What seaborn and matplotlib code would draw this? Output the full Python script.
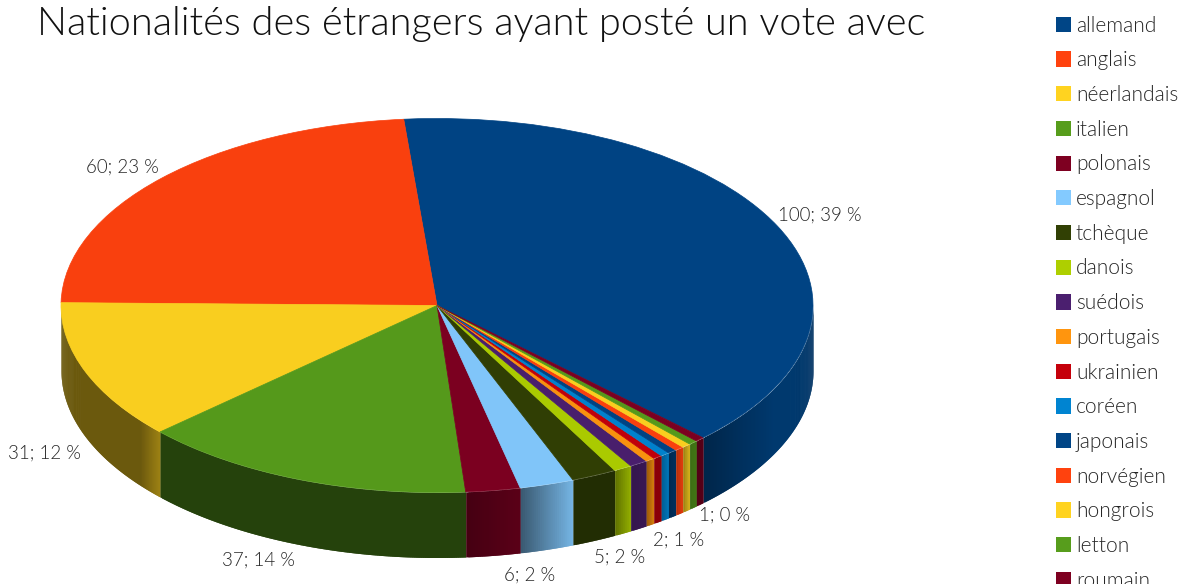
import numpy as np
import matplotlib
matplotlib.use("Agg")
import matplotlib.pyplot as plt
from matplotlib.colors import to_rgb
import seaborn as sns

TITLE = "Nationalités des étrangers ayant posté un vote avec"

languages = ["allemand", "anglais", "néerlandais", "italien", "polonais", "espagnol",
             "tchèque", "danois", "suédois", "portugais", "ukrainien", "coréen",
             "japonais", "norvégien", "hongrois", "letton", "roumain"]
votes = [100, 60, 31, 37, 6, 6, 5, 2, 2, 1, 1, 1, 1, 1, 1, 1, 1]
colours = ["#004586", "#ff420e", "#ffd320", "#579d1c", "#7e0021", "#83caff",
           "#314004", "#aecf00", "#4b1f6f", "#ff950e", "#c5000b", "#0084d1",
           "#004586", "#ff420e", "#ffd320", "#579d1c", "#7e0021"]
# how dark the side wall is, left to right on screen
wall_shades = [[0.55, 0.7, 0.82, 0.82, 0.78, 0.72], [0.5], [0.42] * 9 + [0.62], [0.42], [0.55, 0.72],
               [0.44, 0.9], [0.7], [0.55, 0.85], [0.7, 0.75], [0.6, 0.85], [0.7], [0.7, 0.9],
               [0.6, 0.7], [0.7, 0.9], [0.6, 0.85], [0.7, 0.75], [0.65, 0.7]]

# label text -> centre in pixels
labels = {
    "100; 39 %": (820, 215),
    "60; 23 %": (122, 167),
    "31; 12 %": (44, 453),
    "37; 14 %": (259, 560),
    "6; 2 %": (530, 575),
    "5; 2 %": (620, 557),
    "2; 1 %": (679, 540),
    "1; 0 %": (725, 515),
}

W, H = 1187, 584
CX, CY = 437, 305.5
RX, RY = 376, 187
DEPTH = 65 / RY
START = -45

FONT = ["Lato", "DejaVu Sans"]
TEXT = "#262626"


def draw_wall(ax, t0, t1, colour, shades):
    # only the front half of the disc shows a wall
    t0, t1 = max(t0, 180), min(t1, 360)
    if t1 <= t0:
        return
    n = max(int((t1 - t0) * 3), 2)
    edges = np.linspace(t0, t1, n + 1)
    stops = np.linspace(0, 1, len(shades)) if len(shades) > 1 else [0]
    base = np.array(to_rgb(colour))
    for i in range(n):
        # run each strip on under the next one so no white shows between them
        t = np.radians(np.linspace(edges[i], edges[min(i + 2, n)], 3))
        k = np.interp((i + 0.5) / n, stops, shades)
        ax.fill_between(np.cos(t), np.sin(t), np.sin(t) - DEPTH, color=base * k, lw=0, zorder=1)


def main() -> None:
    sns.set_theme(style="white")
    plt.rcParams["font.family"] = FONT

    fig = plt.figure(figsize=(W / 100, H / 100), dpi=100)
    ax = fig.add_axes([0, 0, 1, 1])

    wedges, _ = ax.pie(votes, colors=colours, startangle=START, counterclock=True,
                       wedgeprops={"linewidth": 0, "zorder": 2})

    angles = START + np.concatenate([[0], np.cumsum(votes)]) / sum(votes) * 360
    for i in range(len(votes)):
        # the first wedge starts under 0 degrees, so shift it round to the front
        t0, t1 = angles[i], angles[i + 1]
        if t0 < 0:
            draw_wall(ax, t0 + 360, 360, colours[i], wall_shades[i])
        else:
            draw_wall(ax, t0, t1, colours[i], wall_shades[i])

    ax.set_aspect("auto")
    ax.set_xlim(-CX / RX, (W - CX) / RX)
    ax.set_ylim(-(H - CY) / RY, CY / RY)
    ax.axis("off")

    fig.text(37 / W, 1 - 24 / H, TITLE, fontsize=28.65, weight=300, color="#111111", va="center", ha="left")

    for text, (x, y) in labels.items():
        fig.text(x / W, 1 - y / H, text, fontsize=13.5, weight=300, color=TEXT, va="center", ha="center")

    fig.legend(wedges, languages, loc="upper left", bbox_to_anchor=(1039 / W, 1 + 1 / H),
               frameon=False, handlelength=0.75, handleheight=0.75,
               handletextpad=0.22, labelspacing=0.705, borderpad=0.3, labelcolor=TEXT,
               prop={"family": FONT, "weight": 300, "size": 15})

    # the top face is a touch dimmer than the legend swatches
    for wedge, colour in zip(wedges, colours):
        face = np.array(to_rgb(colour)) * 0.975
        wedge.set_facecolor(face)
        wedge.set_edgecolor(face)
        wedge.set_linewidth(0.5)

    fig.savefig("out.png", dpi=100)


if __name__ == "__main__":
    main()
